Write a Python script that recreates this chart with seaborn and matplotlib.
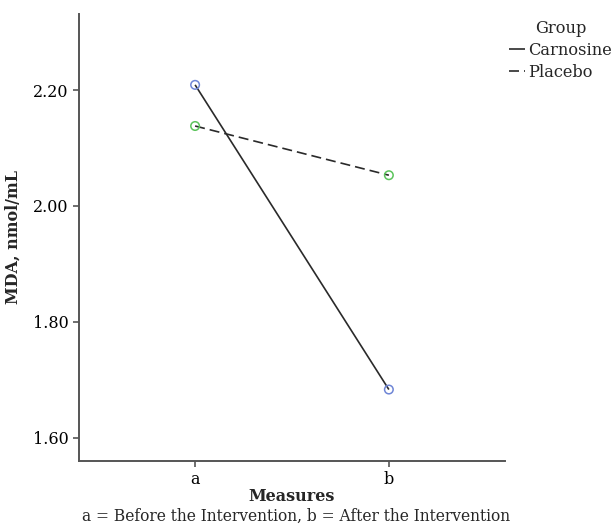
import pandas as pd
import matplotlib.pyplot as plt
import seaborn as sns

measures = ["a", "b"]
carnosine = [2.209, 1.683]
placebo = [2.138, 2.053]
groups = ["Carnosine", "Placebo"]
y_ticks = [1.60, 1.80, 2.00, 2.20]

df = pd.DataFrame({
    "Measures": measures * 2,
    "MDA": carnosine + placebo,
    "Group": [groups[0]] * 2 + [groups[1]] * 2,
})

sns.set_theme(style="ticks")
plt.rcParams['font.family'] = ['DejaVu Serif']
plt.rcParams['font.size'] = 11.5

fig = plt.figure(figsize=(6.16, 5.26), dpi=100)
ax = fig.add_axes([0.128, 0.124, 0.692, 0.849])

line_col = "#2a2a2a"
sns.lineplot(data=df, x="Measures", y="MDA", hue="Group", style="Group",
             palette=[line_col, line_col], dashes=[(1, 0), (6, 3)],
             linewidth=1.2, ax=ax, legend=True)
sns.scatterplot(data=df, x="Measures", y="MDA", hue="Group",
                palette=["#6f86d6", "#5cc45c"], s=38, linewidth=1.1,
                ax=ax, legend=False, zorder=3)
pts = ax.collections[-1]
pts.set_edgecolors(pts.get_facecolors())
pts.set_facecolors("none")

ax.set_xlim(-0.6, 1.6)
ax.set_ylim(1.56, 2.331)
ax.set_yticks(y_ticks)
ax.set_yticklabels([f"{v:.2f}" for v in y_ticks])
ax.set_xlabel("Measures", fontweight="bold", fontsize=11.5, labelpad=0)
ax.set_ylabel("MDA, nmol/mL", fontweight="bold", fontsize=11.5, labelpad=8)
ax.tick_params(axis="both", labelsize=11.5, length=4, width=1.2, colors="#555555", labelcolor="black")
for side in ["left", "bottom"]:
    ax.spines[side].set_color("#555555")
    ax.spines[side].set_linewidth(1.4)
sns.despine(ax=ax)

handles, labels = ax.get_legend_handles_labels()
ax.legend(handles, labels, title="Group", frameon=False, loc="upper left",
          bbox_to_anchor=(0.826, 0.962), bbox_transform=fig.transFigure,
          handlelength=1.0, handletextpad=0.2, labelspacing=0.3,
          borderaxespad=0, borderpad=0, fontsize=11.7, title_fontsize=11.7)

fig.text(0.481, 0.002, "a = Before the Intervention, b = After the Intervention",
         ha="center", va="bottom", fontsize=11.2)

fig.savefig("out.png", dpi=100)
